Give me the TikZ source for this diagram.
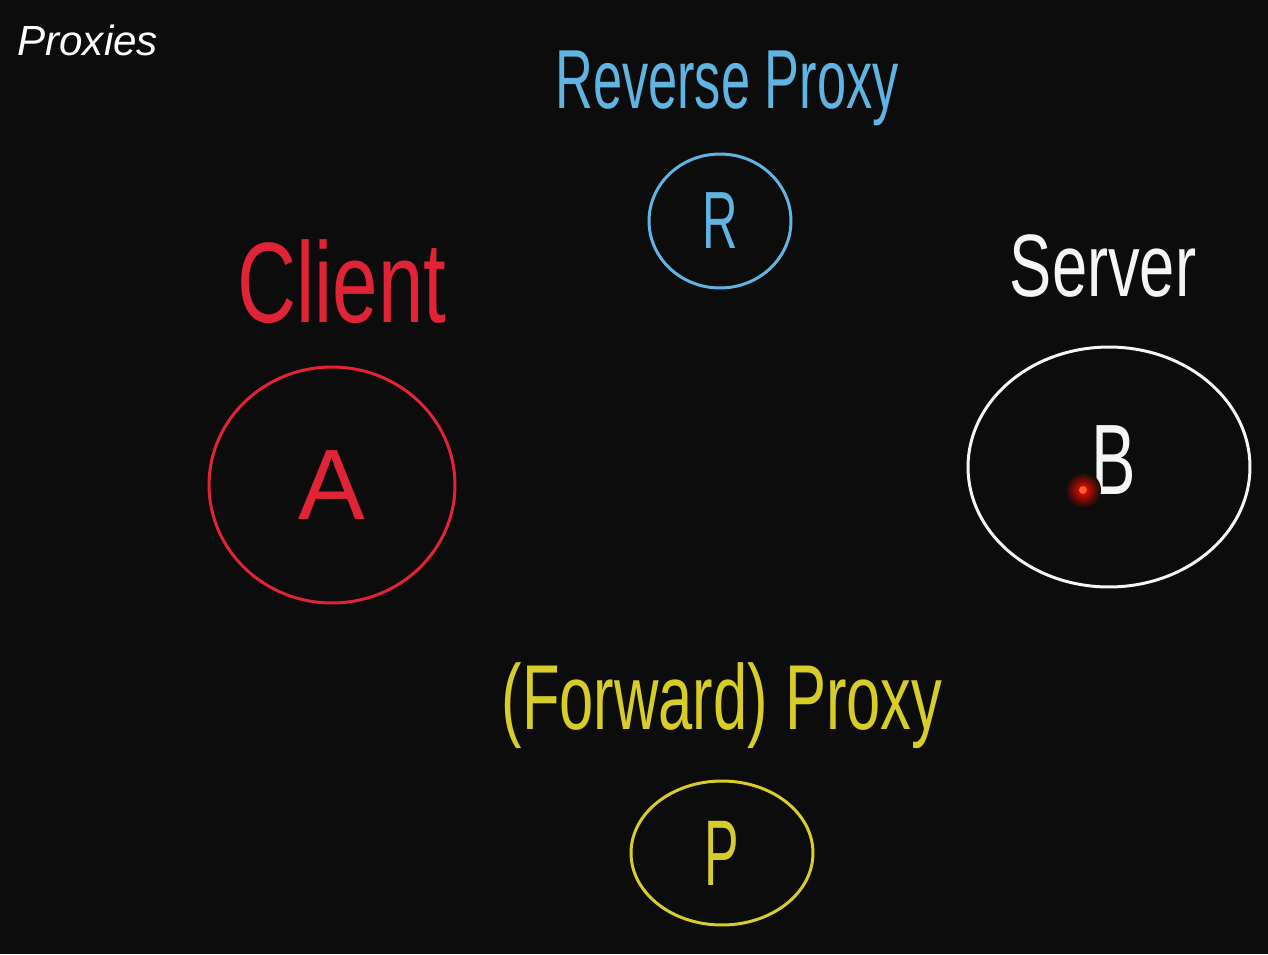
\documentclass[tikz,border=0pt]{standalone}
\usepackage{graphicx}
\usepackage{fontspec}
\setmainfont{Liberation Sans}
\usetikzlibrary{shapes.geometric}
\definecolor{bg}{RGB}{12,12,12}
\definecolor{cblue}{RGB}{95,180,225}
\definecolor{cred}{RGB}{225,35,55}
\definecolor{cyel}{RGB}{215,205,40}
\definecolor{cwhite}{RGB}{245,245,245}
\tikzset{
  hand/.style={inner sep=0pt, anchor=center},
  bubble/.style={draw, ellipse, line width=1.7pt, inner sep=0pt},
}
\newcommand{\hs}[3]{{\fontsize{#1}{#1}\selectfont\scalebox{1}[#2]{#3}}}
\begin{document}
\begin{tikzpicture}[x=0.02cm,y=-0.02cm]
\fill[bg] (0,0) rectangle (1268,954);
\useasboundingbox (0,0) rectangle (1268,954);
% title
\node[hand, text=white, anchor=west] (title) at (17,40) {\fontsize{24}{24}\selectfont\itshape Proxies};
% labels
\node[hand, text=cblue] (revlbl) at (727,88) {\hs{29.8pt}{1.6}{Reverse Proxy}};
\node[hand, text=cred] (clientlbl) at (342,282) {\hs{46.5pt}{1.4}{Client}};
\node[hand, text=cwhite] (serverlbl) at (1103,266) {\hs{36pt}{1.4}{Server}};
\node[hand, text=cyel] (fwdlbl) at (722,706) {\hs{35pt}{1.5}{(Forward) Proxy}};
% bubbles
\node[bubble, draw=cblue, text=cblue, minimum width=2.84cm, minimum height=2.68cm] (R) at (720,221) {\hs{28pt}{1.65}{R}};
\node[bubble, draw=cred, text=cred, minimum width=4.92cm, minimum height=4.72cm] (A) at (332,485) {\hs{57pt}{1.0}{A}};
\node[bubble, draw=cwhite, minimum width=5.64cm, minimum height=4.8cm] (B) at (1109,467) {};
\node[hand, text=cwhite] (Bl) at (1114,460) {\hs{38pt}{1.5}{B}};
\node[bubble, draw=cyel, text=cyel, minimum width=3.64cm, minimum height=2.88cm] (P) at (722,853) {\hs{29.5pt}{1.8}{P}};
% red laser dot
\shade[inner color=red!90!orange, outer color=bg] (1083,490) circle (0.36cm);
\fill[red!60!orange!80!white] (1083,490) circle (0.08cm);
\end{tikzpicture}
\end{document}
